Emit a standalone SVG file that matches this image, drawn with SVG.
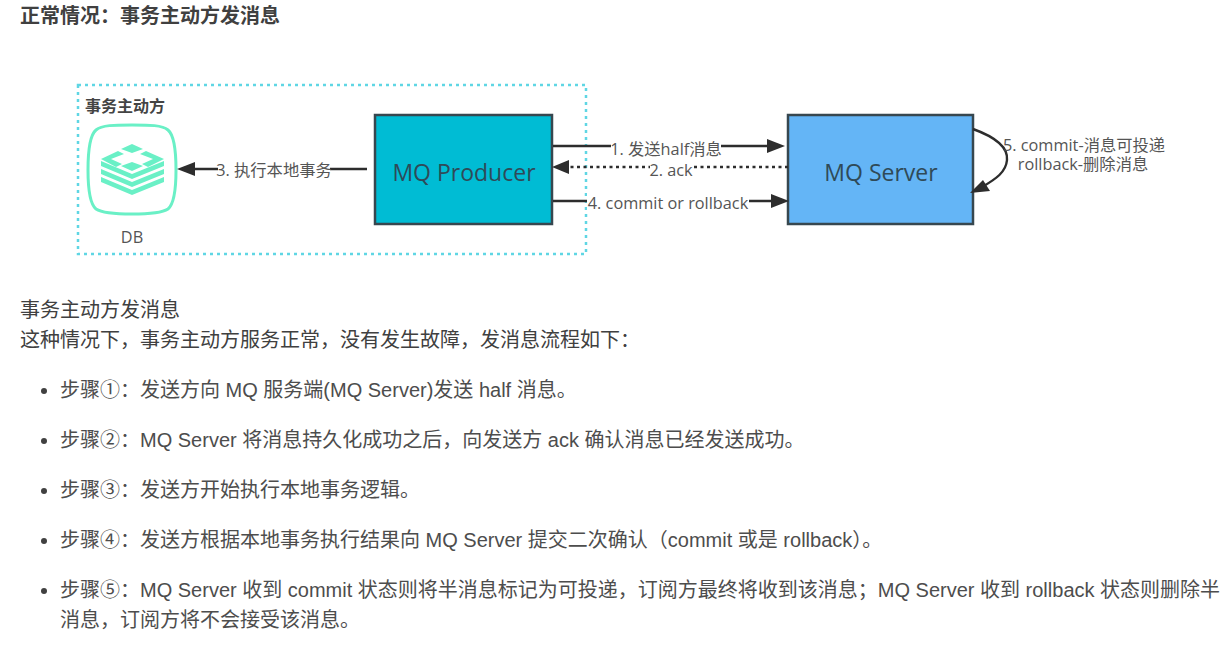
<svg xmlns="http://www.w3.org/2000/svg" width="1227" height="651" viewBox="0 0 1227 651">
<style>
.t{font-family:"Liberation Sans","Noto Sans CJK SC",sans-serif;font-size:20px;fill:#404040}
.li{fill:#4d4d4d}
.l{font-family:"Open Sans","Noto Sans CJK SC",sans-serif;font-size:16.3px;fill:#555;text-anchor:middle}
.n{font-family:"Open Sans","Noto Sans CJK SC",sans-serif;font-size:23px;fill:#2f4a58;text-anchor:middle}
.c{stroke:#2d2d2d;stroke-width:2.4;fill:none}
.h{fill:#2d2d2d}
.bg{fill:#fff}
.m{fill:#6af0c6}
.dot{fill:#404040}
</style>
<rect width="1227" height="651" fill="#fff"/>
<text class="t" x="20" y="23" style="font-weight:700">正常情况&#xFF1A;事务主动方发消息</text>
<rect x="78" y="85" width="508" height="169" fill="none" stroke="#5fd6e4" stroke-width="2.5" stroke-dasharray="3 4"/>
<text x="85" y="112" style="font-family:'Noto Sans CJK SC',sans-serif;font-size:16px;font-weight:700;fill:#444">事务主动方</text>
<g id="db">
<path d="M132 125C150 125 162 125 168 130C174 135 176 150 176 170C176 190 174 204 168 209C162 213 150 214 132 214C114 214 102 213 96 209C90 204 88 190 88 170C88 150 90 135 96 130C102 125 114 125 132 125Z" fill="#fff" stroke="#6af0c6" stroke-width="3"/>
<path class="m" d="M132 144L143 149L132 153L121 149Z M118 151L124 154L111 159L122 164L116 167L101 159Z M146 151L140 154L153 159L142 164L148 167L164 159Z M132 162L143 166L132 171L121 166Z"/>
<path class="m" d="M101 161L132 174L164 161V166L132 179L101 166Z M101 169L132 182L164 169V174L132 187L101 174Z M101 177L132 190L164 177V182L132 195L101 182Z"/>
<text class="l" x="132" y="243">DB</text>
</g>
<g id="mq-producer">
<rect x="375" y="115" width="177" height="109" fill="#00bcd4" stroke="#37474f" stroke-width="2.5"/>
<text class="n" x="464" y="181">MQ Producer</text>
</g>
<g id="mq-server">
<rect x="788" y="115" width="185" height="109" fill="#64b5f6" stroke="#37474f" stroke-width="2.5"/>
<text class="n" x="881" y="181">MQ Server</text>
</g>
<g id="connectors">
<path class="c" d="M367 169H190"/><path class="h" d="M177 169L195 162V176Z"/>
<path class="c" d="M553 146H772"/><path class="h" d="M785 146L767 139V153Z"/>
<path class="c" d="M788 167H565" stroke-dasharray="3 3.5"/><path class="h" d="M552 167L569 160V174Z"/>
<path class="c" d="M553 201H775"/><path class="h" d="M789 201L771 194V208Z"/>
<path class="c" d="M973 129C998 138 1008 149 1007 160C1006 172 996 179 982 187"/><path class="h" d="M970 193L983 180L990 191Z"/>
<rect class="bg" x="218" y="160" width="112" height="20"/>
<text class="l" x="274" y="176">3. 执行本地事务</text>
<rect class="bg" x="611" y="139" width="110" height="19"/>
<text class="l" x="666" y="155">1. 发送half消息</text>
<rect class="bg" x="650" y="160" width="44" height="18"/>
<text class="l" x="671" y="176">2. ack</text>
<rect class="bg" x="587" y="193" width="162" height="20"/>
<text class="l" x="668" y="209">4. commit or rollback</text>
<text class="l"><tspan x="1084" y="150.5">5. commit-消息可投递</tspan><tspan x="1083" y="170">rollback-删除消息</tspan></text>
</g>
<text class="t" x="20" y="317">事务主动方发消息</text>
<text class="t" x="20" y="347">这种情况下&#xFF0C;事务主动方服务正常&#xFF0C;没有发生故障&#xFF0C;发消息流程如下&#xFF1A;</text>
<circle class="dot" cx="44" cy="391" r="3"/><text class="t li" x="60" y="397">步骤①&#xFF1A;发送方向 MQ 服务端(MQ Server)发送 half 消息。</text>
<circle class="dot" cx="44" cy="441" r="3"/><text class="t li" x="60" y="447">步骤②&#xFF1A;MQ Server 将消息持久化成功之后&#xFF0C;向发送方 ack 确认消息已经发送成功。</text>
<circle class="dot" cx="44" cy="491" r="3"/><text class="t li" x="60" y="497">步骤③&#xFF1A;发送方开始执行本地事务逻辑。</text>
<circle class="dot" cx="44" cy="541" r="3"/><text class="t li" x="60" y="547">步骤④&#xFF1A;发送方根据本地事务执行结果向 MQ Server 提交二次确认&#xFF08;commit 或是 rollback&#xFF09;。</text>
<circle class="dot" cx="44" cy="591" r="3"/><text class="t li" x="60" y="597">步骤⑤&#xFF1A;MQ Server 收到 commit 状态则将半消息标记为可投递&#xFF0C;订阅方最终将收到该消息&#xFF1B;MQ Server 收到 rollback 状态则删除半</text>
<text class="t li" x="60" y="627">消息&#xFF0C;订阅方将不会接受该消息。</text>
</svg>
